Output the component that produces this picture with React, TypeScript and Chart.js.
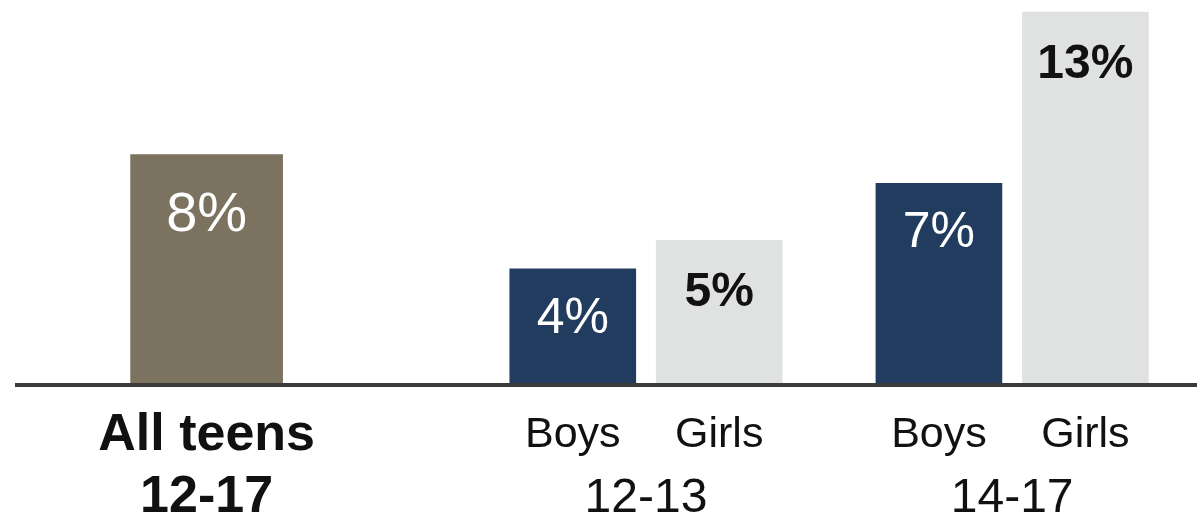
import React, { useEffect, useRef } from "react";
import { Chart, registerables } from "chart.js";

Chart.register(...registerables);

// ---- data ----
const overallLabel = ["All teens", "12-17"];
const overallValue = [8];
const ageGroups = ["12-13", "14-17"];
const sexLabels = ["Boys", "Girls"];
const boysValues = [4, 7];
const girlsValues = [5, 13];

// ---- layout (slot indices on a category axis with spacer slots) ----
const SLOT_COUNT = 13;
const OVERALL_SLOT = 0;
const GROUP_SLOTS = [
  [5, 7],
  [10, 12],
];

const FONT = "'Liberation Sans', Arial, Helvetica, sans-serif";
const OLIVE = "#7b725f";
const NAVY = "#213c5e";
const GRAY = "#e0e1e1";

function slotData(pairs: Array<[number, number]>): (number | null)[] {
  const arr: (number | null)[] = new Array(SLOT_COUNT).fill(null);
  pairs.forEach(([slot, v]) => (arr[slot] = v));
  return arr;
}

const labelPlugin = {
  id: "labels",
  afterDatasetsDraw(chart: any) {
    const ctx = chart.ctx as CanvasRenderingContext2D;
    const area = chart.chartArea;
    ctx.save();

    // value labels
    chart.data.datasets.forEach((ds: any, di: number) => {
      const meta = chart.getDatasetMeta(di);
      meta.data.forEach((el: any, i: number) => {
        const v = ds.data[i];
        if (v === null || v === undefined) return;
        const isOverall = di === 0;
        const dark = ds.labelDark;
        ctx.fillStyle = dark ? "#111111" : "#ffffff";
        ctx.font = `${dark ? "bold " : ""}${isOverall ? 56 : dark ? 48 : 50}px ${FONT}`;
        ctx.textAlign = "center";
        ctx.textBaseline = "alphabetic";
        ctx.fillText(`${v}%`, el.x, el.y + (isOverall ? 76 : dark ? 66 : 64));
      });
    });

    // baseline
    ctx.strokeStyle = "#3a3a3a";
    ctx.lineWidth = 4;
    ctx.beginPath();
    ctx.moveTo(15, area.bottom + 2);
    ctx.lineTo(chart.width, area.bottom + 2);
    ctx.stroke();

    // category labels
    const xScale = chart.scales.x;
    ctx.fillStyle = "#111111";
    ctx.textAlign = "center";
    ctx.textBaseline = "alphabetic";
    const ox = xScale.getPixelForValue(OVERALL_SLOT);
    ctx.font = `bold 52px ${FONT}`;
    ctx.fillText(overallLabel[0], ox, 450);
    ctx.fillText(overallLabel[1], ox, 512);

    GROUP_SLOTS.forEach((slots, gi) => {
      ctx.font = `43px ${FONT}`;
      slots.forEach((s, si) => {
        ctx.fillText(sexLabels[si], xScale.getPixelForValue(s), 447);
      });
      const cx = (xScale.getPixelForValue(slots[0]) + xScale.getPixelForValue(slots[1])) / 2;
      ctx.font = `48px ${FONT}`;
      ctx.fillText(ageGroups[gi], cx, 512);
    });
    ctx.restore();
  },
};

export default function App() {
  const ref = useRef<HTMLCanvasElement>(null);
  useEffect(() => {
    if (!ref.current) return;
    const chart = new Chart(ref.current, {
      type: "bar",
      data: {
        labels: new Array(SLOT_COUNT).fill(""),
        datasets: [
          {
            label: overallLabel.join(" "),
            data: slotData([[OVERALL_SLOT, overallValue[0]]]),
            backgroundColor: OLIVE,
            barThickness: 152,
            grouped: false,
            clip: false,
            labelDark: false,
          } as any,
          {
            label: sexLabels[0],
            data: slotData(GROUP_SLOTS.map((s, i) => [s[0], boysValues[i]] as [number, number])),
            backgroundColor: NAVY,
            barThickness: 126,
            grouped: false,
            clip: false,
            labelDark: false,
          } as any,
          {
            label: sexLabels[1],
            data: slotData(GROUP_SLOTS.map((s, i) => [s[1], girlsValues[i]] as [number, number])),
            backgroundColor: GRAY,
            barThickness: 126,
            grouped: false,
            clip: false,
            labelDark: true,
          } as any,
        ],
      },
      options: {
        animation: false,
        responsive: false,
        layout: { padding: { left: 170, right: 75, top: 0, bottom: 135 } },
        scales: {
          x: { display: false },
          y: { display: false, min: 0, max: 13.42 },
        },
        plugins: { legend: { display: false }, tooltip: { enabled: false } },
      },
      plugins: [labelPlugin],
    });
    return () => chart.destroy();
  }, []);
  return (
    <div style={{ position: "fixed", left: 0, top: 0, width: 1197, height: 518, background: "#fff" }}>
      <canvas ref={ref} width={1197} height={518} />
    </div>
  );
}
